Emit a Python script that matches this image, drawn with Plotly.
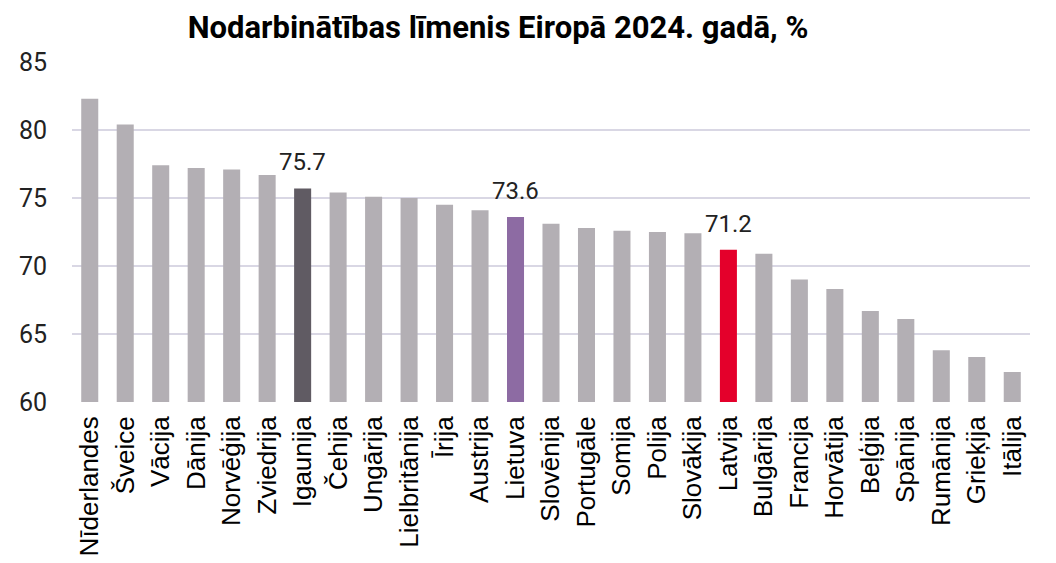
import plotly.graph_objects as go

countries = ["Nīderlandes", "Šveice", "Vācija", "Dānija", "Norvēģija", "Zviedrija", "Igaunija",
             "Čehija", "Ungārija", "Lielbritānija", "Īrija", "Austrija", "Lietuva", "Slovēnija",
             "Portugāle", "Somija", "Polija", "Slovākija", "Latvija", "Bulgārija", "Francija",
             "Horvātija", "Beļģija", "Spānija", "Rumānija", "Grieķija", "Itālija"]
values = [82.3, 80.4, 77.4, 77.2, 77.1, 76.7, 75.7, 75.4, 75.1, 75.0, 74.5, 74.1, 73.6, 73.1,
          72.8, 72.6, 72.5, 72.4, 71.2, 70.9, 69.0, 68.3, 66.7, 66.1, 63.8, 63.3, 62.2]
highlight_colors = {"Igaunija": "#605B63", "Lietuva": "#8D6BA3", "Latvija": "#E4002B"}
labeled = ["Igaunija", "Lietuva", "Latvija"]
y_ticks = [60, 65, 70, 75, 80, 85]

colors = [highlight_colors.get(c, "#B3AFB4") for c in countries]

fig = go.Figure(go.Bar(
    x=countries, y=values, marker_color=colors, marker_line_width=0,
))

for c, v in zip(countries, values):
    if c in labeled:
        fig.add_annotation(x=c, y=v, text=f"{v:.1f}", showarrow=False,
                           xanchor="center", yanchor="bottom", yshift=10,
                           font=dict(family="Roboto", size=24, color="#222222"))

fig.update_layout(
    width=1056, height=563,
    margin=dict(l=64, r=34, t=54, b=169),
    paper_bgcolor="white", plot_bgcolor="white",
    bargap=0.52,
    showlegend=False,
    title=dict(text="<b>Nodarbinātības līmenis Eiropā 2024. gadā, %</b>",
               x=490 / 1056, xanchor="center", y=1 - 19 / 563, yanchor="middle",
               font=dict(family="Roboto", size=31, color="#000000")),
)
fig.update_yaxes(range=[60, 85], tickvals=y_ticks, showgrid=True, gridcolor="#D9D7E4", gridwidth=2,
                 zeroline=False, showline=False, ticks="", ticklabelstandoff=24, automargin=False,
                 tickfont=dict(family="Roboto", size=25, color="#222222"))
fig.update_xaxes(tickangle=-90, showline=False, ticks="", automargin=False, ticklabelstandoff=8,
                 tickfont=dict(family="Liberation Sans", size=26, color="#000000"))

fig.write_html("out.html")
